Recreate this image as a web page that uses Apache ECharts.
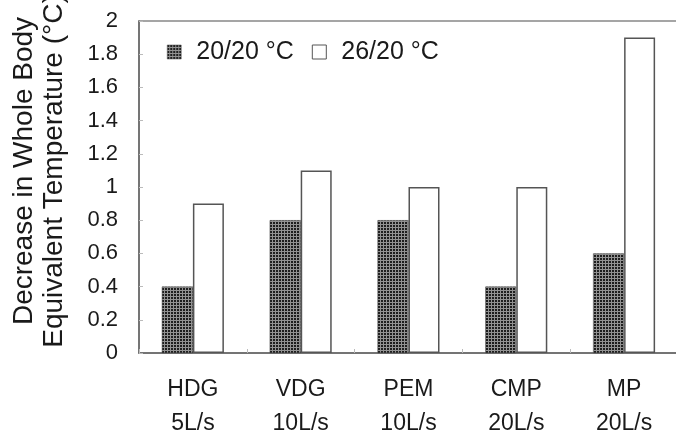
<!DOCTYPE html>
<html>
<head>
<meta charset="utf-8">
<script src="https://cdn.jsdelivr.net/npm/echarts@6/dist/echarts.min.js"></script>
<style>
  html, body { margin: 0; padding: 0; background: #fff; }
  #chart { width: 676px; height: 430px; }
</style>
</head>
<body>
<div id="chart"></div>
<script>
// data
const categories = ['HDG\n5L/s', 'VDG\n10L/s', 'PEM\n10L/s', 'CMP\n20L/s', 'MP\n20L/s'];
const seriesNames = ['20/20 °C', '26/20 °C'];
const cond2020 = [0.4, 0.8, 0.8, 0.4, 0.6];
const cond2620 = [0.9, 1.1, 1.0, 1.0, 1.9];

const FONT = '"Liberation Sans", Arial, sans-serif';

// halftone fill like the printed hatch: dark dots on grey
function dotPattern() {
    const c = document.createElement('canvas');
    c.width = 3;
    c.height = 3;
    const ctx = c.getContext('2d');
    ctx.fillStyle = '#929292';
    ctx.fillRect(0, 0, 3, 3);
    ctx.fillStyle = '#1e1e1e';
    ctx.fillRect(0, 0, 2, 2);
    return c;
}
const dots = { image: dotPattern(), repeat: 'repeat' };

const chart = echarts.init(document.getElementById('chart'));

chart.setOption({
    animation: false,
    textStyle: { fontFamily: FONT },
    grid: {
        left: 139, top: 21, width: 539, height: 332,
        outerBoundsMode: 'none', containLabel: false,
        show: true, borderColor: '#888', borderWidth: 1.5, backgroundColor: 'transparent'
    },
    legend: {
        left: 167, top: 39, padding: 0,
        icon: 'rect',
        itemWidth: 14, itemHeight: 14, itemGap: 18,
        textStyle: { fontFamily: FONT, fontSize: 25, lineHeight: 26, color: '#1a1a1a', padding: [0, 0, 0, 10] },
        data: [
            { name: seriesNames[0], itemStyle: { color: dots, borderColor: '#444', borderWidth: 0.5 } },
            { name: seriesNames[1], itemStyle: { color: '#fff', borderColor: '#555', borderWidth: 1 } }
        ]
    },
    xAxis: {
        type: 'category',
        data: categories,
        axisLine: { lineStyle: { color: '#666', width: 1.5 } },
        axisTick: { show: true, inside: true, length: 4, lineStyle: { color: '#bbb' } },
        axisLabel: { fontSize: 23, color: '#1a1a1a', lineHeight: 34, margin: 20 }
    },
    yAxis: {
        type: 'value',
        min: 0, max: 2, interval: 0.2,
        name: 'Decrease in Whole Body\nEquivalent Temperature (°C)',
        nameLocation: 'middle',
        nameGap: 70,
        nameTextStyle: { fontSize: 28, color: '#1a1a1a', lineHeight: 30, padding: [0, 0, 0, 32] },
        axisLine: { show: true, lineStyle: { color: '#666', width: 1.5 } },
        axisTick: { show: true, inside: true, length: 4, lineStyle: { color: '#bbb' } },
        splitLine: { show: false },
        axisLabel: { fontSize: 22, color: '#1a1a1a', margin: 21, formatter: v => String(+v.toFixed(1)) }
    },
    series: [
        {
            name: seriesNames[0], type: 'bar', data: cond2020,
            barWidth: 31, barGap: '0%',
            itemStyle: { color: dots, borderColor: '#333', borderWidth: 0.5 }
        },
        {
            name: seriesNames[1], type: 'bar', data: cond2620,
            barWidth: 31,
            itemStyle: { color: '#fff', borderColor: '#555', borderWidth: 1.5 }
        }
    ]
});
</script>
</body>
</html>
